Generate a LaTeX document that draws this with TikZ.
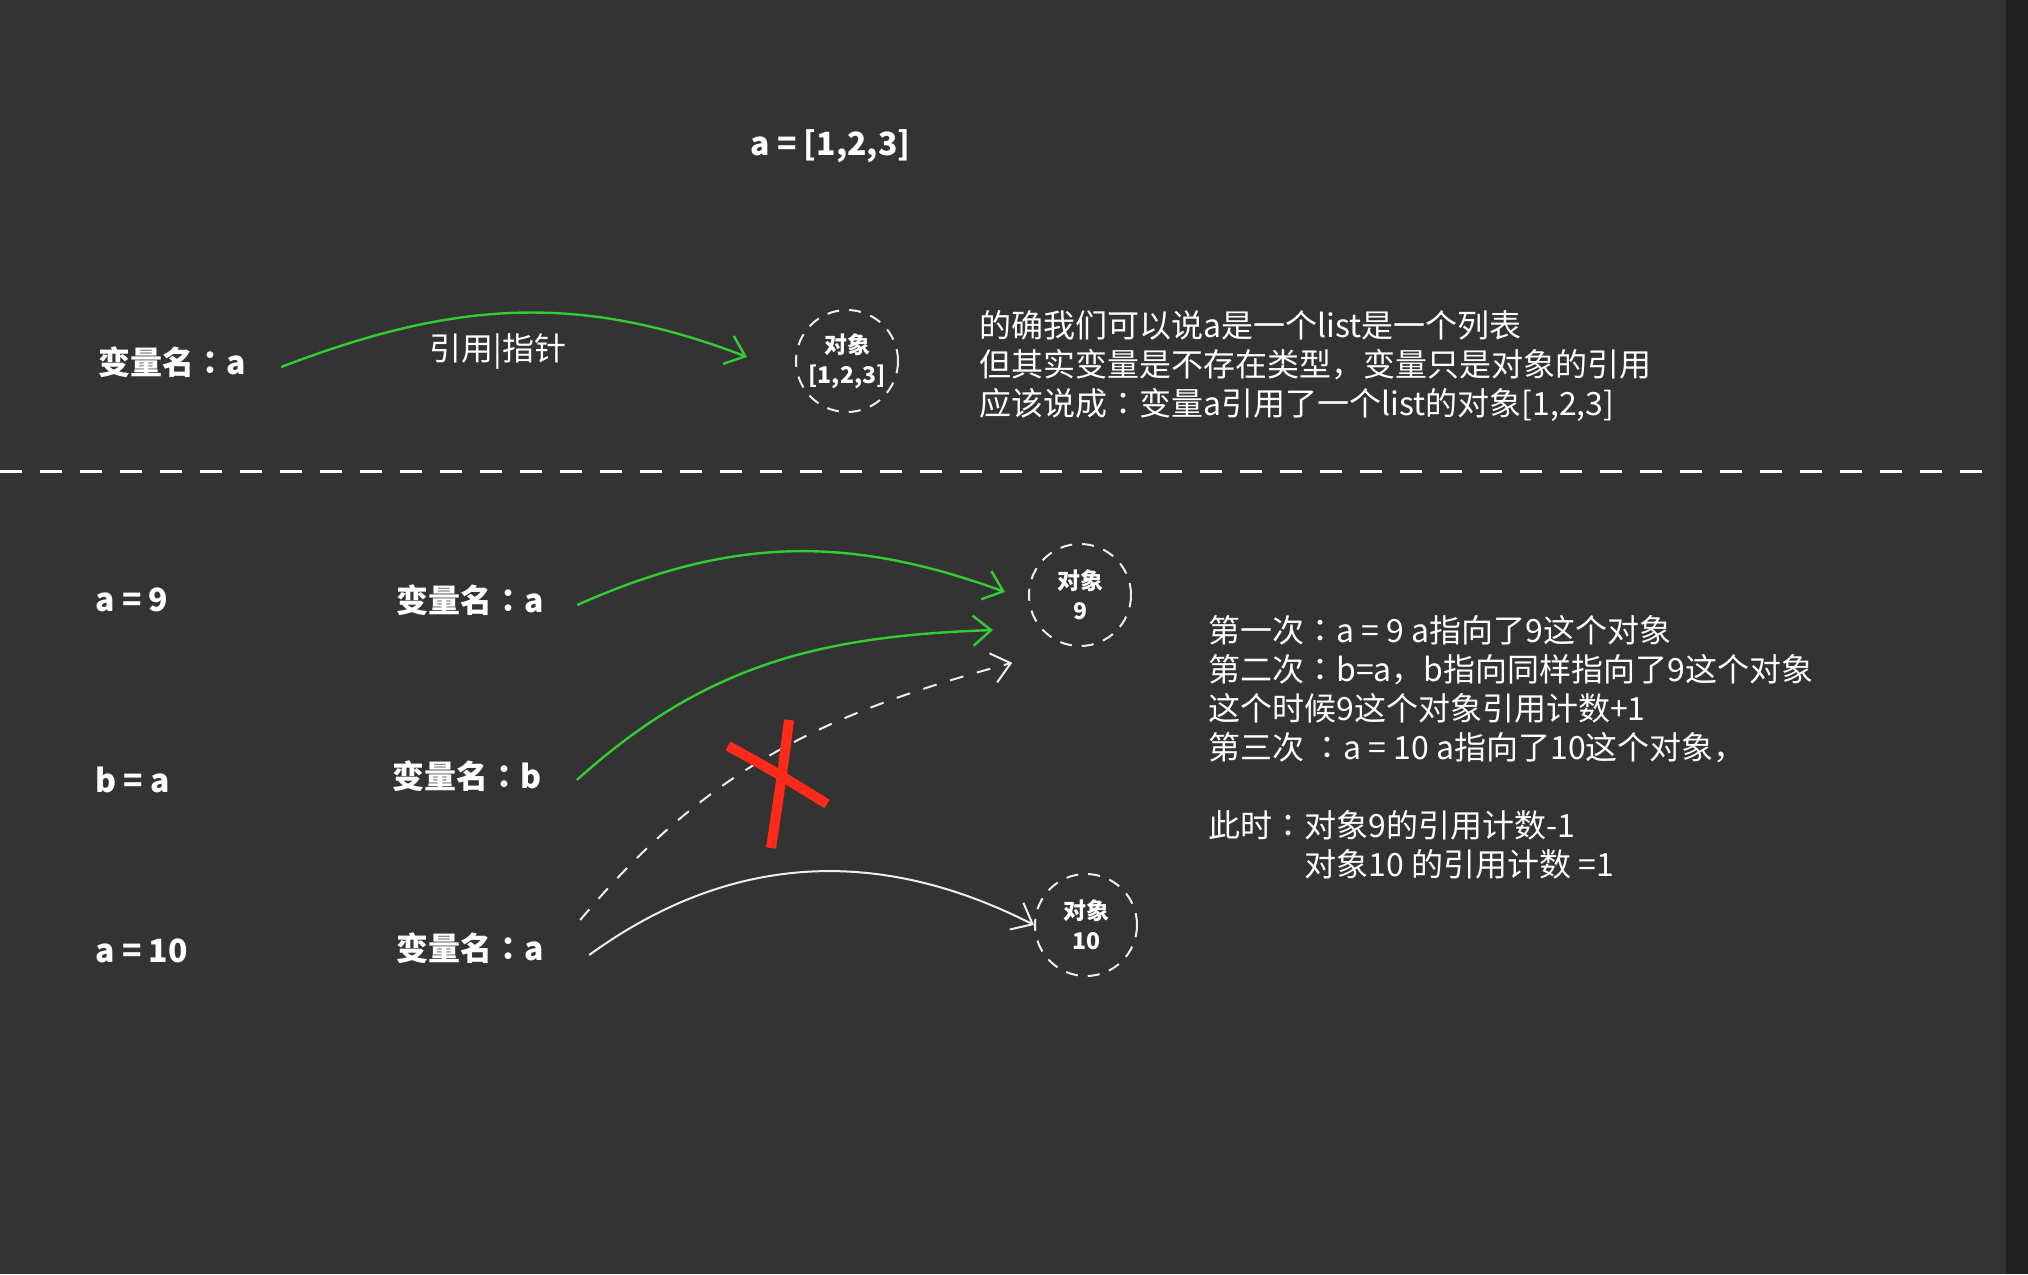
\documentclass[tikz,border=0pt]{standalone}
\usepackage{fontspec}
\setmainfont{Noto Sans CJK SC}
\newfontfamily\tcfont{Noto Sans CJK TC}
\newcommand\cc{{\tcfont ：}}
\usetikzlibrary{arrows.meta,calc}
\definecolor{board}{HTML}{333333}
\definecolor{edge} {HTML}{212121}
\definecolor{ptr}  {HTML}{33CC33}
\definecolor{chalk}{HTML}{EEEEEE}
\definecolor{cross}{HTML}{FF2A1A}

\tikzset{
  lbl/.style={anchor=west,inner sep=0,text=white,font=\fontsize{16}{19.5}\selectfont\bfseries},
  note/.style={anchor=west,inner sep=0,text=white,align=left,font=\fontsize{16}{19.5}\selectfont},
  obj/.style={circle,draw=chalk,line width=1pt,dash pattern=on 6pt off 5pt,minimum size=51pt,
    inner sep=0,text=white,align=center,font=\fontsize{11.5}{15}\selectfont\bfseries},
  ref/.style={draw=ptr,line width=1.2pt,-{Straight Barb[length=9pt,width=15pt]}},
  move/.style={draw=chalk,line width=1pt,-{Straight Barb[length=9pt,width=15pt]}},
  gone/.style={move,dash pattern=on 7pt off 7pt}
}

\begin{document}
\begin{tikzpicture}[x=0.5pt,y=-0.5pt]
  \fill[board] (0,0) rectangle (2028,1274);
  \fill[edge] (2006,0) rectangle (2028,1274);
  \useasboundingbox (0,0) rectangle (2028,1274);

  \node[lbl] (list) at (750,146) {a = [1,2,3]};
  \node[lbl] (va0) at (98,362) {变量名\cc a};
  \node[note,anchor=center] (ptrlbl) at (498,352) {引用|指针};
  \node[note] (say) at (979,366) {的确我们可以说a是一个list是一个列表\\
    但其实变量是不存在类型，变量只是对象的引用\\
    应该说成\cc 变量a引用了一个list的对象[1,2,3]};

  \draw[white,line width=1.5pt,dash pattern=on 11pt off 9pt] (0,471) -- (1988,471);

  \foreach \n/\txt/\y in {s1/{a = 9}/600, s2/{b = a}/780, s3/{a = 10}/951}
    \node[lbl] (\n) at (95,\y) {\txt};
  \foreach \n/\txt/\x/\y in {va1/a/396/600, vb/b/392/776, va2/a/396/948}
    \node[lbl] (\n) at (\x,\y) {变量名\cc\txt};
  \foreach \n/\txt/\x/\y in {o0/{[1,2,3]}/847/361, o9/9/1080/595, o10/10/1086/925}
    \node[obj] (\n) at (\x,\y) {对象\\{\txt}};

  \node[note] (count) at (1208,747) {第一次\cc a = 9 a指向了9这个对象\\
    第二次\cc b=a，b指向同样指向了9这个对象\\
    这个时候9这个对象引用计数+1\\
    第三次 \cc a = 10 a指向了10这个对象，\\[19.5pt]
    此时\cc 对象9的引用计数-1\\
    \phantom{此时\cc}对象10 的引用计数 =1};

  \draw[ref] ([xshift=17.5pt,yshift=-2.5pt]va0.east) to[out=21,in=159] ([xshift=-24pt,yshift=2pt]o0.west);
  \draw[ref] ([xshift=16.5pt,yshift=-2.5pt]va1.east) to[out=24,in=160] ([xshift=-11.5pt,yshift=1.5pt]o9.west);
  \draw[ref] ([xshift=17.5pt,yshift=-2pt]vb.east) to[out=42,in=182] ([xshift=-17.5pt,yshift=-17.5pt]o9.west);
  \draw[gone] ([xshift=18pt,yshift=14pt]va2.east) to[out=50,in=195] ([xshift=-15.5pt,yshift=-15.5pt]o9.south west);
  \draw[move] ([xshift=22.5pt,yshift=-3.5pt]va2.east) to[out=36,in=153] (o10.west);

  \draw[cross,line width=5pt] (789,720) .. controls (782,775) .. (771,848);
  \draw[cross,line width=5pt] (728,746) .. controls (772,770) .. (827,804);
\end{tikzpicture}
\end{document}
